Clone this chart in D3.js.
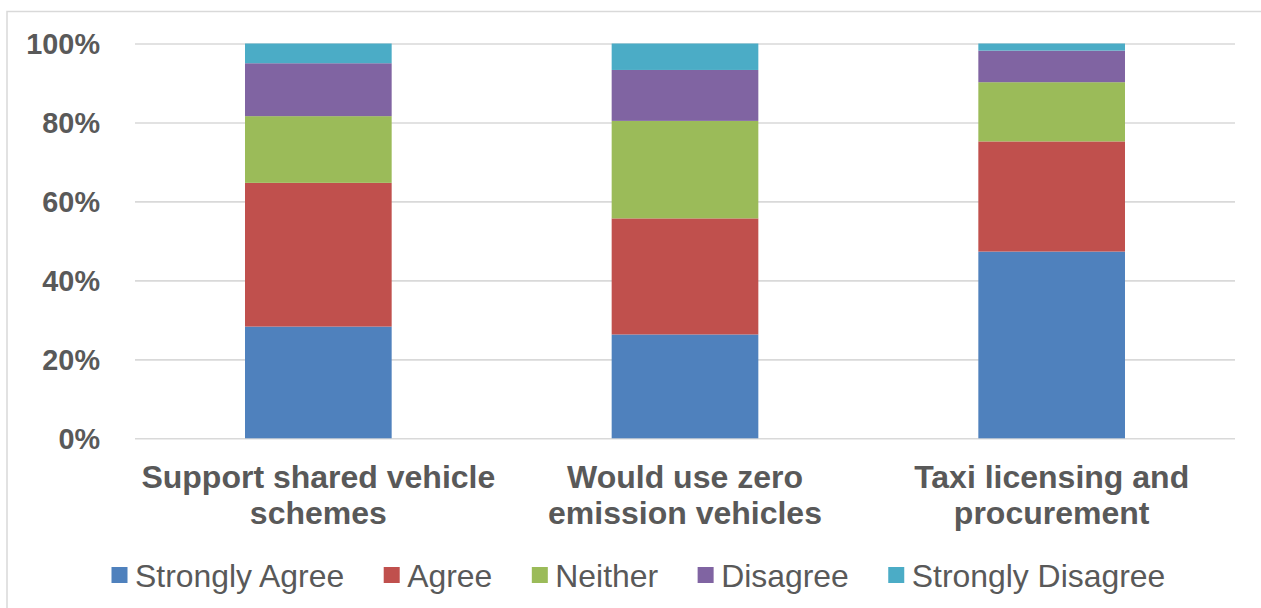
<!DOCTYPE html>
<html>
<head>
<meta charset="utf-8">
<script src="https://cdn.jsdelivr.net/npm/d3@7"></script>
<style>
  html, body { margin: 0; padding: 0; background: #ffffff; }
  svg { display: block; }
</style>
</head>
<body>
<svg id="chart" width="1261" height="608"></svg>
<script>
// ---- data ----
const categories = [
  ["Support shared vehicle", "schemes"],
  ["Would use zero", "emission vehicles"],
  ["Taxi licensing and", "procurement"]
];
const seriesNames = ["Strongly Agree", "Agree", "Neither", "Disagree", "Strongly Disagree"];
const stronglyAgree    = [28.3, 26.3, 47.3];
const agree            = [36.4, 29.4, 27.9];
const neither          = [16.9, 24.7, 15.0];
const disagree         = [13.4, 12.9, 8.0];
const stronglyDisagree = [5.0, 6.7, 1.8];
const yTicks = [0, 20, 40, 60, 80, 100];
const seriesColors = ["#4F81BD", "#C0504D", "#9BBB59", "#8064A2", "#4BACC6"];

// ---- build table ----
const seriesValues = [stronglyAgree, agree, neither, disagree, stronglyDisagree];
const table = categories.map((c, i) => {
  const row = { key: i };
  seriesNames.forEach((s, j) => row[s] = seriesValues[j][i]);
  return row;
});
const stacked = d3.stack().keys(seriesNames)(table);

const svg = d3.select("#chart");
const textColor = "#595959";
const gridColor = "#d9d9d9";

// outer chart border
svg.append("rect")
  .attr("x", 7).attr("y", 11.5)
  .attr("width", 1300).attr("height", 620)
  .attr("fill", "none").attr("stroke", gridColor).attr("stroke-width", 1.5);

const plot = { left: 135, right: 1235, top: 43.5, bottom: 438.3 };

const x = d3.scaleBand()
  .domain(d3.range(categories.length))
  .range([plot.left, plot.right])
  .paddingInner(0.6)
  .paddingOuter(0.3);

const y = d3.scaleLinear().domain([0, 100]).range([plot.bottom, plot.top]);

// gridlines
const yAxis = d3.axisLeft(y)
  .tickValues(yTicks)
  .tickSize(-(plot.right - plot.left))
  .tickPadding(35)
  .tickFormat(d => d + "%");

const gy = svg.append("g")
  .attr("transform", `translate(${plot.left},0)`)
  .call(yAxis);
gy.select(".domain").remove();
gy.selectAll(".tick line").attr("stroke", gridColor).attr("stroke-width", 1.6);
gy.selectAll(".tick text")
  .attr("fill", textColor)
  .attr("font-family", "'Liberation Sans', Arial, sans-serif")
  .attr("font-weight", "bold")
  .attr("font-size", "28.8px")
  .attr("dy", "0.36em");

// bars
svg.append("g")
  .selectAll("g")
  .data(stacked)
  .join("g")
  .attr("fill", (d, i) => seriesColors[i])
  .selectAll("rect")
  .data(d => d)
  .join("rect")
  .attr("x", d => x(d.data.key))
  .attr("width", x.bandwidth())
  .attr("y", d => y(d[1]))
  .attr("height", d => y(d[0]) - y(d[1]));

// category labels
const catG = svg.append("g");
categories.forEach((lines, i) => {
  const cx = x(i) + x.bandwidth() / 2;
  const t = catG.append("text")
    .attr("text-anchor", "middle")
    .attr("fill", textColor)
    .attr("font-family", "'Liberation Sans', Arial, sans-serif")
    .attr("font-weight", "bold")
    .attr("font-size", "32px");
  lines.forEach((ln, k) => {
    t.append("tspan").attr("x", cx).attr("y", 488 + k * 35.6).text(ln);
  });
});

// legend
const legend = svg.append("g");
let lx = 111.5;
const sq = 16, gapSqText = 7.5, gapItem = 39.5;
seriesNames.forEach((name, i) => {
  legend.append("rect")
    .attr("x", lx).attr("y", 567)
    .attr("width", sq).attr("height", sq)
    .attr("fill", seriesColors[i]);
  const t = legend.append("text")
    .attr("x", lx + sq + gapSqText)
    .attr("y", 586.5)
    .attr("fill", textColor)
    .attr("font-family", "'Liberation Sans', Arial, sans-serif")
    .attr("font-size", "31.9px")
    .text(name);
  lx = lx + sq + gapSqText + t.node().getComputedTextLength() + gapItem;
});
</script>
</body>
</html>
